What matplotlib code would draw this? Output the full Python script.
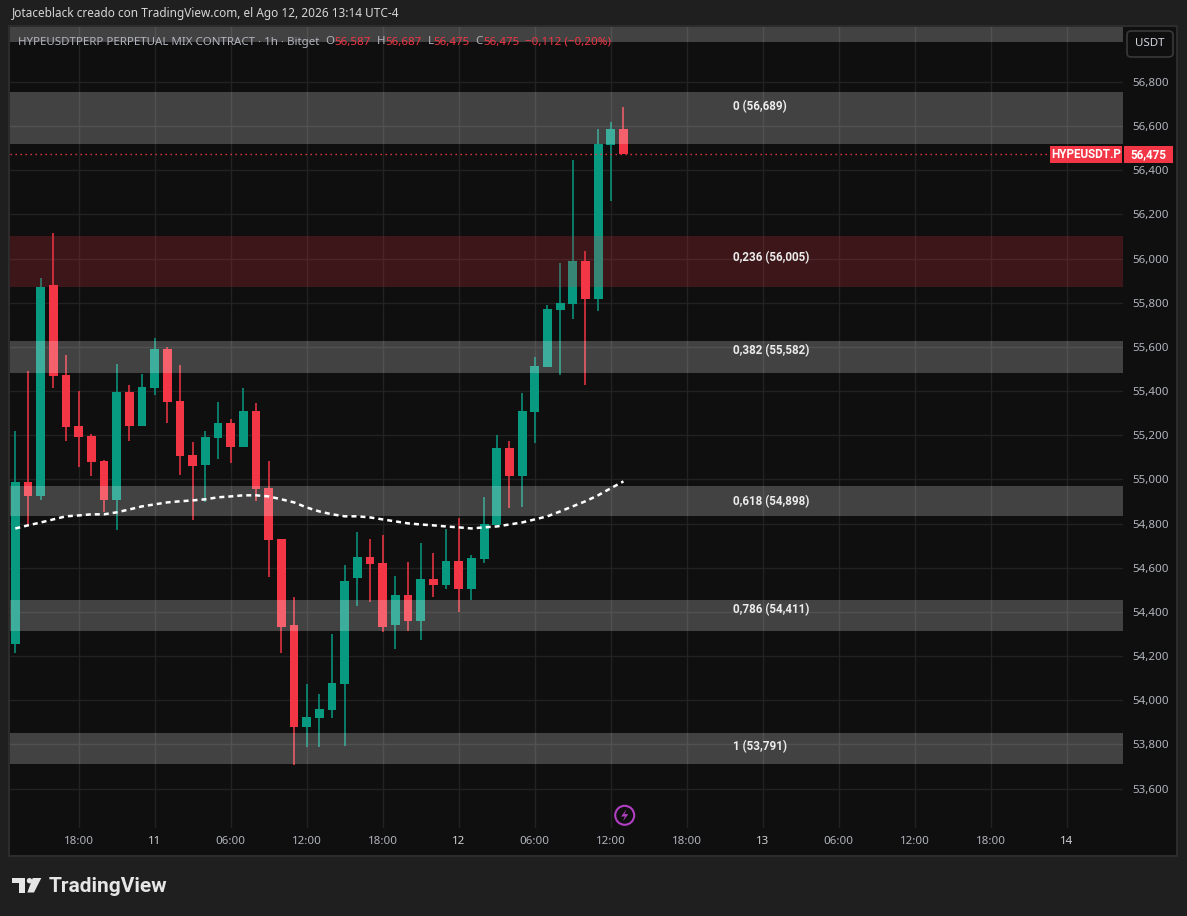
import matplotlib
matplotlib.use("Agg")
import matplotlib.pyplot as plt
from matplotlib.patches import Rectangle, FancyBboxPatch, Ellipse, Polygon
import matplotlib.transforms as mtransforms
import numpy as np

plt.rcParams['font.family'] = ['Noto Sans', 'DejaVu Sans']
BOLD = ['Roboto', 'DejaVu Sans']

# ---------------- datos (velas 1h, desde 10 ago 13:00) ----------------
open_ = [54.257, 54.987, 54.923, 55.880, 55.472, 55.241, 55.195, 55.082, 54.905, 55.395,
         55.241, 55.413, 55.590, 55.354, 55.109, 55.064, 55.186, 55.254, 55.145, 55.309,
         54.960, 54.728, 54.339, 53.881, 53.922, 53.958, 54.076, 54.552, 54.651, 54.620,
         54.339, 54.479, 54.361, 54.547, 54.520, 54.629, 54.502, 54.638, 54.792, 55.141,
         55.014, 55.304, 55.508, 55.766, 55.794, 55.989, 55.816, 56.514, 56.587]
high = [55.218, 55.490, 55.912, 56.116, 55.562, 55.399, 55.204, 55.086, 55.522, 55.426,
        55.476, 55.640, 55.599, 55.517, 55.168, 55.218, 55.349, 55.272, 55.413, 55.345,
        55.082, 54.728, 54.466, 54.076, 54.030, 54.298, 54.611, 54.760, 54.728, 54.747,
        54.565, 54.624, 54.710, 54.669, 54.774, 54.824, 54.660, 54.919, 55.200, 55.173,
        55.390, 55.553, 55.789, 55.980, 56.446, 56.034, 56.587, 56.619, 56.687]
low = [54.216, 54.787, 54.905, 55.413, 55.173, 55.055, 55.014, 54.851, 54.769, 55.173,
       55.241, 55.381, 55.254, 55.019, 54.815, 54.896, 55.091, 55.073, 55.145, 54.901,
       54.556, 54.212, 53.708, 53.790, 53.790, 53.922, 53.795, 54.429, 54.447, 54.311,
       54.234, 54.316, 54.271, 54.466, 54.502, 54.398, 54.456, 54.620, 54.792, 54.869,
       54.873, 55.164, 55.508, 55.472, 55.726, 55.426, 55.762, 56.261, 56.475]
close = [54.987, 54.923, 55.871, 55.467, 55.236, 55.191, 55.077, 54.905, 55.395, 55.241,
         55.417, 55.590, 55.349, 55.105, 55.059, 55.191, 55.254, 55.145, 55.309, 54.955,
         54.724, 54.334, 53.881, 53.926, 53.962, 54.080, 54.538, 54.651, 54.615, 54.334,
         54.479, 54.361, 54.547, 54.520, 54.629, 54.502, 54.642, 54.796, 55.141, 55.014,
         55.309, 55.513, 55.771, 55.798, 55.989, 55.816, 56.519, 56.587, 56.475]
ma = [54.778, 54.792, 54.805, 54.819, 54.833, 54.837, 54.842, 54.842, 54.851, 54.864,
      54.878, 54.887, 54.896, 54.901, 54.905, 54.910, 54.919, 54.923, 54.928, 54.928,
      54.923, 54.910, 54.896, 54.873, 54.855, 54.842, 54.833, 54.833, 54.828, 54.819,
      54.810, 54.801, 54.796, 54.792, 54.787, 54.783, 54.778, 54.783, 54.787, 54.796,
      54.805, 54.819, 54.833, 54.855, 54.878, 54.901, 54.928, 54.960, 54.991]

start_hour = 13
start_day = 10

fib_ratios = ["0", "0,236", "0,382", "0,618", "0,786", "1"]
fib_prices = [56.689, 56.005, 55.582, 54.898, 54.411, 53.791]

zone_low = [56.980, 56.518, 55.871, 55.481, 54.834, 54.313, 53.712]
zone_high = [57.300, 56.753, 56.101, 55.626, 54.970, 54.454, 53.852]
zone_red = [False, False, True, False, False, False, False]

symbol = "HYPEUSDTPERP PERPETUAL MIX CONTRACT · 1h · Bitget"
watermark = "Jotaceblack creado con TradingView.com, el Ago 12, 2026 13:14 UTC-4"

# ---------------- estilo ----------------
W, H = 1187, 916
BG_OUT = "#1f1f1f"
BG = "#0f0f0f"
GRID = "#222222"
UP = "#089981"
DOWN = "#f23645"
TXT = "#b2b5be"


def fx(x):
    return x / W


def fy(y):
    return 1 - y / H


def fmt(v):
    return f"{v:.3f}".replace(".", ",")


fig = plt.figure(figsize=(W / 100, H / 100), dpi=100, facecolor=BG_OUT)

# panel del grafico
fig.patches.append(Rectangle((fx(9), fy(856)), fx(1177) - fx(9), fy(26) - fy(856),
                             transform=fig.transFigure, fc=BG, ec="#2c2c2c", lw=1.5, zorder=-1))

ax = fig.add_axes([fx(10), fy(828), fx(1123) - fx(10), fy(27) - fy(828)])
ax.set_facecolor(BG)
for s in ax.spines.values():
    s.set_visible(False)

n = len(close)
idx = np.arange(n)
o = np.array(open_)
c = np.array(close)
cols = [UP if c[i] >= o[i] else DOWN for i in range(n)]

# velas
ax.vlines(idx, low, high, colors=cols, lw=1.1, zorder=2)
ax.bar(idx, np.maximum(np.abs(c - o), 0.01), bottom=np.minimum(o, c), width=0.7,
       color=cols, lw=0, zorder=2.1)

# media movil
ax.plot(idx, ma, color="white", lw=1.8, ls=(0, (2.0, 1.6)), zorder=4)

# zonas fibonacci
for lo, hi, red in zip(zone_low, zone_high, zone_red):
    if red:
        ax.axhspan(lo, hi, color=DOWN, alpha=0.2, lw=0, zorder=3)
    else:
        ax.axhspan(lo, hi, color="white", alpha=0.215, lw=0, zorder=3)

trans = mtransforms.blended_transform_factory(ax.transAxes, ax.transData)
for r, p in zip(fib_ratios, fib_prices):
    ax.text((733 - 10) / 1113, p, f"{r} ({fmt(p)})", transform=trans, ha="left", va="center",
            color="#ececec", fontsize=8.4, fontweight="bold", family=BOLD, zorder=6)

# linea de precio actual
ax.axhline(c[-1], xmin=0, xmax=(1050 - 10) / 1113, color=DOWN, lw=1,
           ls=(0, (1, 2.6)), zorder=3.5)

# ejes
ax.set_xlim(-0.418, 87.43)
ax.set_ylim(53.422, 57.048)

yt = np.round(np.arange(53.6, 56.81, 0.2), 1)
ax.set_yticks(yt)
ax.set_yticklabels([fmt(v) for v in yt])
ax.yaxis.tick_right()
ax.tick_params(axis="y", length=0, pad=6.5, labelsize=8.3, labelcolor=TXT)
for lab in ax.get_yticklabels():
    lab.set_ha("left")

xt, xl = [], []
for i in range(88):
    hour = (start_hour + i) % 24
    if hour % 6 == 0:
        xt.append(i)
        if hour == 0:
            xl.append(str(start_day + (start_hour + i) // 24))
        else:
            xl.append(f"{hour:02d}:00")
ax.set_xticks(xt)
ax.set_xticklabels(xl)
ax.tick_params(axis="x", length=0, pad=5.5, labelsize=8.3, labelcolor=TXT)
for lab in ax.get_xticklabels():
    if ":" not in lab.get_text():
        lab.set_color("#cfd1d6")
ax.grid(True, color=GRID, lw=1, zorder=0)
ax.set_axisbelow(True)

# etiquetas de precio
fig.patches.append(Rectangle((fx(1050), fy(163)), fx(1122) - fx(1050), fy(146) - fy(163),
                             transform=fig.transFigure, fc=DOWN, lw=0, zorder=5))
fig.text(fx(1086), fy(154.5), "HYPEUSDT.P", color="white", fontsize=8.4, fontweight="bold",
         family=BOLD, ha="center", va="center", zorder=6)
fig.patches.append(Rectangle((fx(1124), fy(163)), fx(1173) - fx(1124), fy(146) - fy(163),
                             transform=fig.transFigure, fc=DOWN, lw=0, zorder=5))
fig.text(fx(1148.5), fy(154.5), fmt(c[-1]), color="white", fontsize=8.4, fontweight="bold",
         family=BOLD, ha="center", va="center", zorder=6)

# boton USDT
fig.patches.append(FancyBboxPatch((fx(1127), fy(57)), fx(1173) - fx(1127), fy(31) - fy(57),
                                  boxstyle="round,pad=0,rounding_size=0.004",
                                  transform=fig.transFigure, fc=BG, ec="#3a3a3a", lw=1.2, zorder=5))
fig.text(fx(1150), fy(44), "USDT", color="#d1d4dc", fontsize=8.3, ha="center", va="center", zorder=6)

# marca superior
fig.text(fx(12), fy(13), watermark, color="#d6d6d6", fontsize=8.5, ha="left", va="center")

# leyenda OHLC
fig.canvas.draw()
renderer = fig.canvas.get_renderer()
chg = c[-1] - c[-2]
pct = chg / c[-2] * 100
pieces = [(symbol + "  ", TXT), ("O", TXT), (fmt(o[-1]), DOWN), ("  H", TXT), (fmt(high[-1]), DOWN),
          ("  L", TXT), (fmt(low[-1]), DOWN), ("  C", TXT), (fmt(c[-1]), DOWN),
          ("  " + fmt(chg).replace("-", "−") + " (" + f"{pct:.2f}".replace(".", ",").replace("-", "−") + "%)",
           DOWN)]
xpos = 18
for s, col in pieces:
    t = fig.text(fx(xpos), fy(42), s, color=col, fontsize=8.3, ha="left", va="center", zorder=6)
    bb = t.get_window_extent(renderer)
    xpos = bb.x1

# icono rayo
cx, cy = 624.7, 815.3
fig.patches.append(Ellipse((fx(cx), fy(cy)), 19 / W, 19 / H, transform=fig.transFigure,
                           fc="none", ec="#b13fc4", lw=1.5, zorder=6))
bolt = [(1.8, -6), (-3.6, 1.2), (0.2, 1.2), (-1.8, 6), (3.6, -1.2), (-0.2, -1.2)]
fig.patches.append(Polygon([(fx(cx + a), fy(cy + b)) for a, b in bolt], closed=True,
                           transform=fig.transFigure, fc="#b13fc4", lw=0, zorder=6))

# logo TradingView
LOGO = "#e6e6e6"
fig.patches.append(Rectangle((fx(12), fy(883)), fx(25) - fx(12), fy(878) - fy(883),
                             transform=fig.transFigure, fc=LOGO, lw=0))
fig.patches.append(Rectangle((fx(19), fy(892.5)), fx(25) - fx(19), fy(878) - fy(892.5),
                             transform=fig.transFigure, fc=LOGO, lw=0))
fig.patches.append(Ellipse((fx(29.5), fy(880.7)), 5.4 / W, 5.4 / H, transform=fig.transFigure,
                           fc=LOGO, lw=0))
fig.patches.append(Polygon([(fx(32.7), fy(878)), (fx(41.3), fy(878)), (fx(34), fy(892.5)),
                            (fx(27.3), fy(892.5))], closed=True, transform=fig.transFigure,
                           fc=LOGO, lw=0))
fig.text(fx(49), fy(886), "TradingView", color=LOGO, fontsize=15, fontweight="semibold",
         family=BOLD, ha="left", va="center")

fig.savefig("out.png", dpi=100, facecolor=BG_OUT)
